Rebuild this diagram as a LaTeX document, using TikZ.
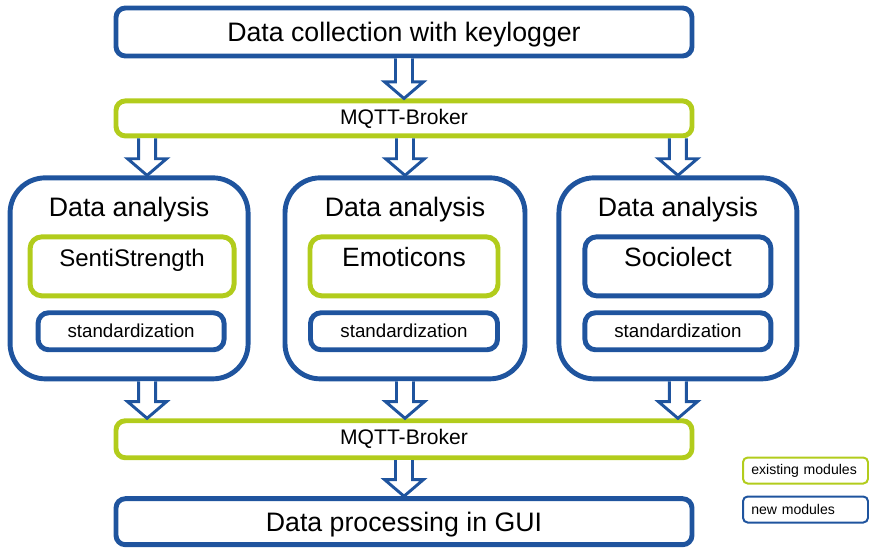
\documentclass[tikz,border=0pt]{standalone}
\usepackage{fontspec}
\setmainfont{Liberation Sans}
\usepackage{tikz}
\usetikzlibrary{positioning,calc}
\definecolor{newblue} {RGB}{31,84,158}
\definecolor{oldgreen}{RGB}{178,204,28}
\tikzset{
  bigbox/.style   ={draw=newblue, line width=4.2pt, rounded corners=8pt,
                    minimum width=17.28cm, minimum height=#1, text depth=0pt,
                    font=\fontsize{22.8pt}{27pt}\selectfont},
  brokerbox/.style={draw=oldgreen, line width=4.2pt, rounded corners=8pt,
                    minimum width=17.28cm, minimum height=#1,
                    font=\fontsize{18pt}{21pt}\selectfont},
  anabox/.style   ={draw=newblue, line width=4.2pt, rounded corners=30pt,
                    minimum width=#1, minimum height=6.03cm},
  anatitle/.style ={anchor=base, font=\fontsize{22.8pt}{27pt}\selectfont},
  modbox/.style   ={draw=#1, line width=4.2pt, rounded corners=10pt,
                    minimum height=1.77cm, text height=0.5cm, text depth=0.5cm,
                    inner sep=0pt, font=\fontsize{22.6pt}{27pt}\selectfont},
  stdbox/.style   ={draw=newblue, line width=4.2pt, rounded corners=9pt,
                    minimum width=#1, minimum height=1.11cm,
                    font=\fontsize{16pt}{19pt}\selectfont},
  legbox/.style   ={draw=#1, line width=1.7pt, rounded corners=4pt,
                    anchor=west, minimum height=0.78cm, inner xsep=0.25cm,
                    text width=3.25cm, align=left,
                    font=\fontsize{12pt}{14pt}\selectfont},
  blockarr/.style ={draw=newblue, fill=white, line width=2.5pt, line join=miter},
}
% hollow block arrow from #1 (x and top) down to the y of #2
\newcommand{\blockarrow}[2]{%
  \draw[blockarr] let \p1=(#1), \p2=(#2) in
    (\x1-0.255cm,\y1) -- (\x1-0.255cm,\y2+0.5cm)
    -- (\x1-0.585cm,\y2+0.5cm) -- (\x1,\y2)
    -- (\x1+0.585cm,\y2+0.5cm) -- (\x1+0.255cm,\y2+0.5cm)
    -- (\x1+0.255cm,\y1);}
\begin{document}
\begin{tikzpicture}
  \useasboundingbox (0,0) rectangle (26.07,-16.47);
  \node[bigbox=1.44cm] (collect) at (12.12,-0.96) {Data collection with keylogger};
  \node[brokerbox=1.05cm, below=1.2cm of collect] (broker1) {MQTT-Broker};

  \node[anabox=7.2cm, below=1.11cm of broker1, xshift=0.03cm] (an2) {};
  \node[anabox=7.14cm, left=0.96cm of an2] (an1) {};
  \node[anabox=7.14cm, right=0.87cm of an2] (an3) {};

  \node[anatitle] (t1) at ([yshift=-1.245cm]an1.north) {Data analysis};
  \node[anatitle] (t2) at ([yshift=-1.245cm]an2.north) {Data analysis};
  \node[anatitle] (t3) at ([yshift=-1.245cm]an3.north) {Data analysis};

  \node[modbox=oldgreen, minimum width=6.12cm, below=1.77cm of an1.north, xshift=0.09cm,
        font=\fontsize{20.5pt}{24pt}\selectfont] (senti) {SentiStrength};
  \node[modbox=oldgreen, minimum width=5.64cm, below=1.77cm of an2.north, xshift=-0.03cm]
        (emo) {Emoticons};
  \node[modbox=newblue, minimum width=5.58cm, below=1.77cm of an3.north] (socio) {Sociolect};

  \node[stdbox=5.58cm, below=0.36cm of senti, xshift=-0.03cm] (std1) {standardization};
  \node[stdbox=5.61cm, below=0.36cm of emo] (std2) {standardization};
  \node[stdbox=5.58cm, below=0.36cm of socio] (std3) {standardization};

  \node[brokerbox=1.11cm, below=1.11cm of an2, xshift=-0.03cm] (broker2) {MQTT-Broker};
  \node[bigbox=1.38cm, below=1.08cm of broker2] (gui) {Data processing in GUI};

  \node[legbox=oldgreen] (legold) at (22.26,-14.115) {existing modules};
  \node[legbox=newblue] (legnew) at (22.26,-15.285) {new modules};

  \blockarrow{collect.south}{broker1.north}
  \blockarrow{[xshift=0.54cm]broker1.south -| an1.north}{an1.north}
  \blockarrow{broker1.south -| an2.north}{an2.north}
  \blockarrow{broker1.south -| an3.north}{an3.north}
  \blockarrow{[xshift=0.54cm]an1.south}{broker2.north}
  \blockarrow{an2.south}{broker2.north}
  \blockarrow{an3.south}{broker2.north}
  \blockarrow{broker2.south}{gui.north}
\end{tikzpicture}
\end{document}
